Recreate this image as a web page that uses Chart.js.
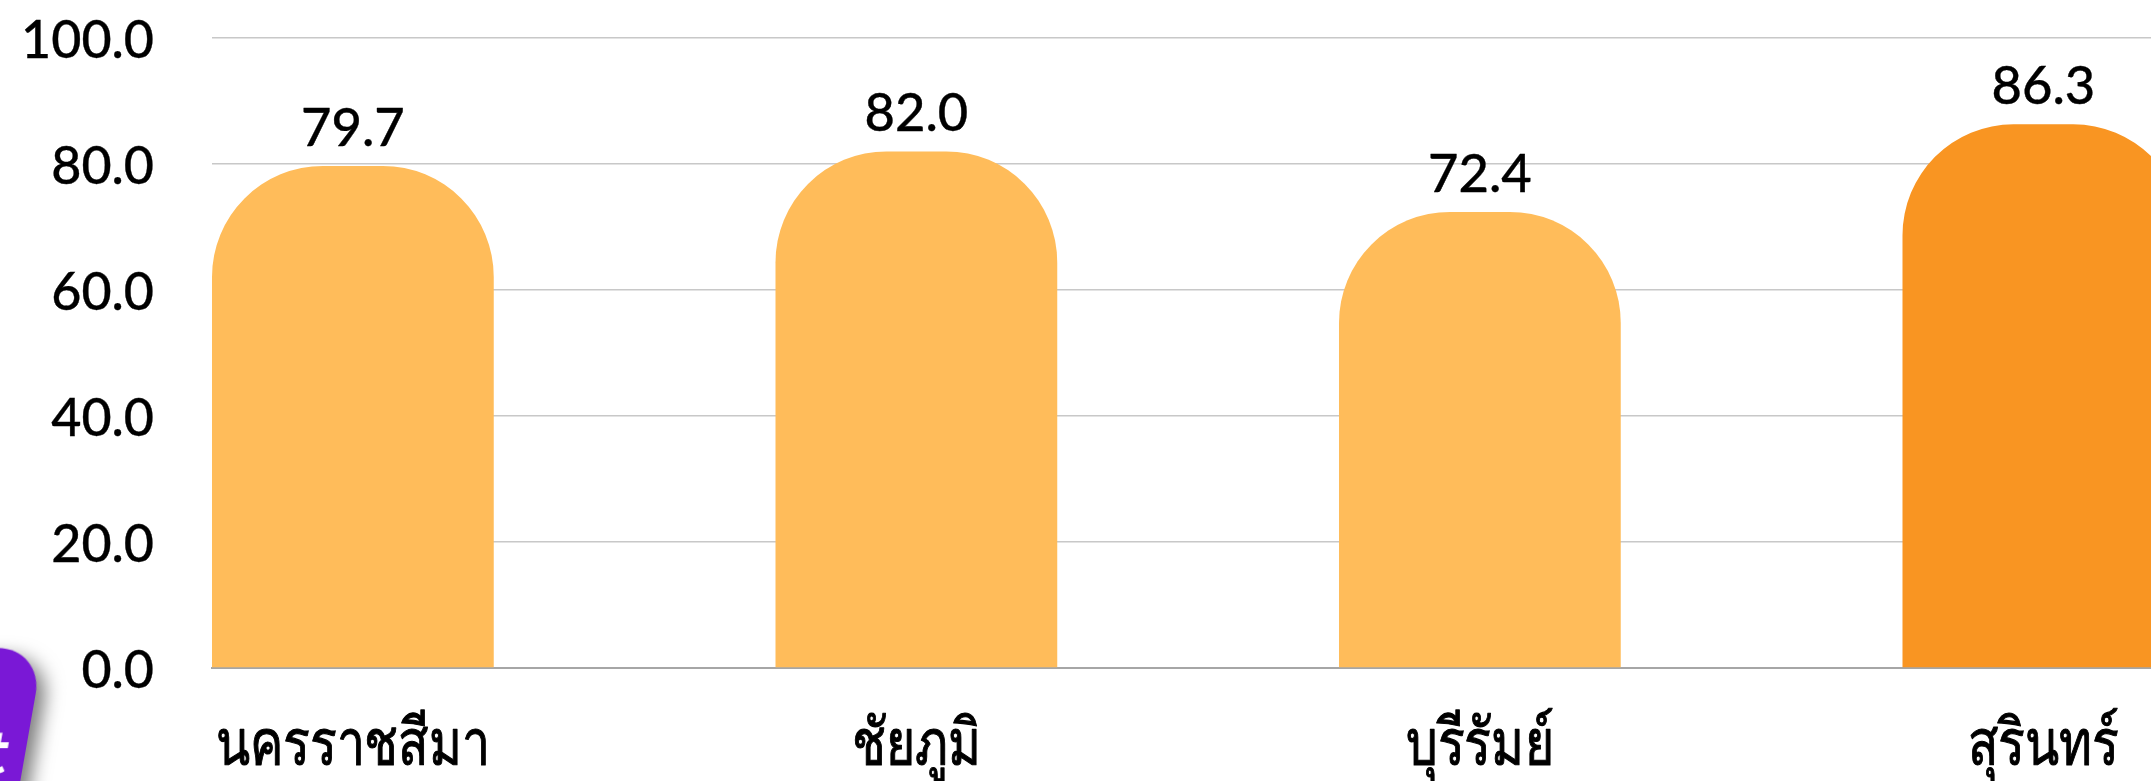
<!DOCTYPE html>
<html><head><meta charset="utf-8">
<style>html,body{margin:0;padding:0;background:#fff;overflow:hidden;width:2151px;height:781px}
#w{position:absolute;left:0;top:0;width:2151px;height:781px}
#badge{position:absolute;left:-107px;top:648px;width:134px;height:190px;background:#7A18D6;border-radius:46px;transform:skewX(-10deg);box-shadow:10px 8px 18px rgba(0,0,0,.5);overflow:hidden}
#badge span{position:absolute;left:94px;top:67px;font:900 60px Lato,sans-serif;color:#fff}
</style>
<script src="https://cdn.jsdelivr.net/npm/chart.js@4"></script></head>
<body><div id="w"><canvas id="c" width="2151" height="781"></canvas></div>
<div id="badge"><span>t</span></div>
<script>
const categories=["นครราชสีมา","ชัยภูมิ","บุรีรัมย์","สุรินทร์"];
const values=[79.7,82.0,72.4,86.3];
const barColors=["#FFBC5A","#FFBC5A","#FFBC5A","#F99522"];
const NUM='Lato,sans-serif';
const THAI='"Noto Sans",sans-serif';
const labelsPlugin={id:'vals',afterDatasetsDraw(ch){const m=ch.getDatasetMeta(0),c=ch.ctx;c.save();c.font='500 52.5px '+NUM;c.fillStyle='#000';c.strokeStyle='#000';c.lineJoin='round';c.lineWidth=0.35;c.textAlign='center';c.textBaseline='alphabetic';m.data.forEach((b,i)=>{const s=values[i].toFixed(1);c.fillText(s,b.x,b.y-20);c.strokeText(s,b.x,b.y-20);});
 const xs=ch.scales.x;c.font='500 65px '+THAI;c.lineWidth=1.1;xs.ticks.forEach((t,i)=>{c.save();c.translate(xs.getPixelForTick(i),765);c.scale(0.77,1);c.fillText(categories[i],0,0);c.strokeText(categories[i],0,0);c.restore();});c.restore();}};
new Chart(document.getElementById('c'),{type:'bar',data:{datasets:[{data:values.map((v,i)=>({x:i,y:v})),backgroundColor:barColors,borderRadius:{topLeft:111,topRight:111},borderSkipped:'bottom',barPercentage:0.5,categoryPercentage:1}]},
options:{responsive:false,animation:false,layout:{padding:{left:0,right:0,top:38,bottom:0}},plugins:{legend:{display:false},tooltip:{enabled:false}},
scales:{y:{min:0,max:100,afterFit(s){s.width=212;s.paddingTop=0;s.paddingBottom=0},ticks:{stepSize:20,padding:58,labelOffset:3,color:'#000',textStrokeColor:'#000',textStrokeWidth:0.35,font:{size:52,weight:'500',family:NUM},callback:v=>v.toFixed(1)},grid:{color:'#C8C8C8',lineWidth:1.5,drawTicks:false},border:{display:false}},
x:{type:'linear',offset:false,min:-0.25,max:3.191,afterBuildTicks(s){s.ticks=categories.map((_,i)=>({value:i}))},afterFit(s){s.height=113;s.paddingLeft=0;s.paddingRight=0},ticks:{color:'rgba(0,0,0,0)',padding:24,font:{size:50,family:THAI},maxRotation:0,autoSkip:false,callback:v=>categories[v]},grid:{display:false,drawTicks:false},border:{color:'#A6A6A6',width:2}}}},plugins:[labelsPlugin]});
</script></body></html>
